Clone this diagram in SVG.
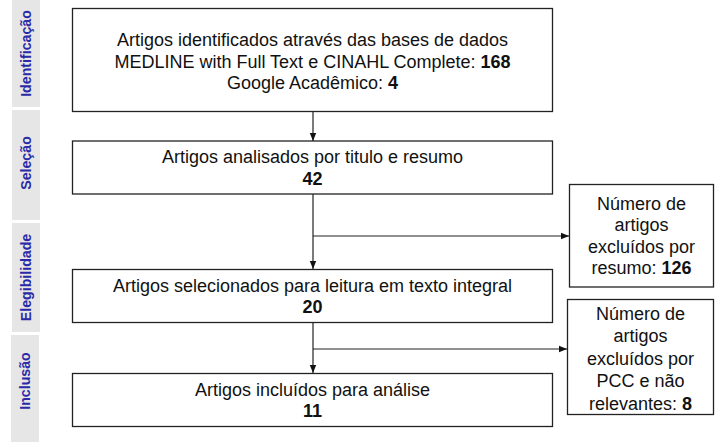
<svg xmlns="http://www.w3.org/2000/svg" width="715" height="442" viewBox="0 0 715 442">
<defs>
<style>
.box{fill:#fff;stroke:#222;stroke-width:1.3}
.side{fill:#e6e6e6}
.st{font-family:"Liberation Sans",Arial,sans-serif;font-size:14.2px;font-weight:bold;fill:#2a2aa8;text-anchor:middle}
.t{font-family:"Liberation Sans",Arial,sans-serif;font-size:18px;fill:#111;text-anchor:middle}
.b{font-weight:bold}
.ln{fill:none;stroke:#222;stroke-width:1.2}
</style>
<marker id="ah" viewBox="0 0 8 8" refX="8" refY="4" markerWidth="8" markerHeight="8" markerUnits="userSpaceOnUse" orient="auto">
<path d="M0,0.8 L8,4 L0,7.2 Z" fill="#111"/>
</marker>
</defs>
<rect width="715" height="442" fill="#fff"/>
<g id="side-identificacao">
<rect class="side" x="12" y="0" width="28" height="107"/>
<text class="st" transform="translate(31,53.5) rotate(-90)">Identificação</text>
</g>
<g id="side-selecao">
<rect class="side" x="12" y="110" width="28" height="110"/>
<text class="st" transform="translate(31,163) rotate(-90)">Seleção</text>
</g>
<g id="side-elegibilidade">
<rect class="side" x="12" y="223" width="28" height="109"/>
<text class="st" transform="translate(31,277.5) rotate(-90)">Elegibilidade</text>
</g>
<g id="side-inclusao">
<rect class="side" x="11" y="335" width="28" height="107"/>
<text class="st" transform="translate(30,381) rotate(-90)">Inclusão</text>
</g>
<g id="connectors">
<line class="ln" x1="313" y1="112" x2="313" y2="141" marker-end="url(#ah)"/>
<line class="ln" x1="313" y1="194" x2="313" y2="269" marker-end="url(#ah)"/>
<line class="ln" x1="313" y1="236" x2="569" y2="236" marker-end="url(#ah)"/>
<line class="ln" x1="313" y1="323" x2="313" y2="373" marker-end="url(#ah)"/>
<line class="ln" x1="313" y1="349" x2="567" y2="349" marker-end="url(#ah)"/>
</g>
<g id="n1">
<rect class="box" x="72.5" y="8.5" width="480" height="103"/>
<text class="t" x="312.5" y="46">Artigos identificados através das bases de dados</text>
<text class="t" x="312.5" y="67.5">MEDLINE with Full Text e CINAHL Complete: <tspan class="b">168</tspan></text>
<text class="t" x="312.5" y="89">Google Acadêmico: <tspan class="b">4</tspan></text>
</g>
<g id="n2">
<rect class="box" x="72.5" y="141" width="480" height="53"/>
<text class="t" x="312.5" y="163">Artigos analisados por titulo e resumo</text>
<text class="t b" x="312.5" y="184.5">42</text>
</g>
<g id="n3">
<rect class="box" x="72.5" y="269.5" width="480" height="53"/>
<text class="t" x="312.5" y="291.5">Artigos selecionados para leitura em texto integral</text>
<text class="t b" x="312.5" y="313">20</text>
</g>
<g id="n4">
<rect class="box" x="72.5" y="373.5" width="480" height="53"/>
<text class="t" x="312.5" y="395.5">Artigos incluídos para análise</text>
<text class="t b" x="312.5" y="417">11</text>
</g>
<g id="r1">
<rect class="box" x="569.5" y="184.5" width="144" height="102.5"/>
<text class="t" x="641.5" y="209.5">Número de</text>
<text class="t" x="641.5" y="231">artigos</text>
<text class="t" x="641.5" y="252.5">excluídos por</text>
<text class="t" x="641.5" y="274">resumo: <tspan class="b">126</tspan></text>
</g>
<g id="r2">
<rect class="box" x="567.5" y="299.5" width="146" height="115"/>
<text class="t" x="640.5" y="319.5">Número de</text>
<text class="t" x="640.5" y="342">artigos</text>
<text class="t" x="640.5" y="364.5">excluídos por</text>
<text class="t" x="640.5" y="387">PCC e não</text>
<text class="t" x="640.5" y="409.5">relevantes: <tspan class="b">8</tspan></text>
</g>
</svg>
